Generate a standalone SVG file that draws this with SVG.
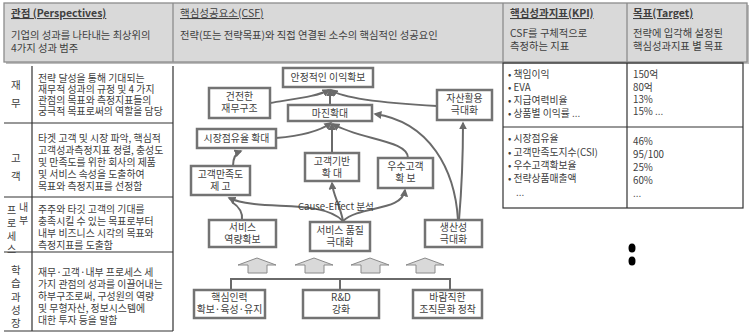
<svg xmlns="http://www.w3.org/2000/svg" width="751" height="333" viewBox="0 0 751 333">
<defs>
<marker id="ah" viewBox="0 0 10 10" refX="8" refY="5" markerWidth="4" markerHeight="4" orient="auto-start-reverse">
<path d="M0,0 L10,5 L0,10 z" fill="#6a6a6a"/>
</marker>
<style>
text{font-family:"Noto Sans CJK KR","Noto Sans",sans-serif;fill:#404040}
.h{font-size:10.3px}
.hb{font-size:10.5px;font-weight:bold;text-decoration:underline}
.hu{font-size:10.5px;text-decoration:underline}
.t{font-size:9.9px}
.lb{font-size:10.5px}
.lbs{font-size:10px}
.n rect{fill:#fff;stroke:#737373;stroke-width:2.5}
.n text{font-size:9.9px;text-anchor:middle}
.c path{fill:none;stroke:#6a6a6a;stroke-width:2}
.k{font-size:9.8px}
.grid{stroke:#333;stroke-width:1.2;fill:none}
.big{fill:#d9d9d9;stroke:#8a8a8a;stroke-width:1}
</style>
</defs>
<rect width="751" height="333" fill="#fff"/>

<!-- header -->
<g id="header">
<rect x="6" y="5" width="743" height="59" fill="#bdbdbd"/>
<rect x="4" y="3" width="743" height="59" fill="#d9d9d9" stroke="#8c8c8c" stroke-width="1.3"/>
<line x1="173" y1="3" x2="173" y2="62" stroke="#8c8c8c" stroke-width="1.3"/>
<line x1="503" y1="3" x2="503" y2="62" stroke="#8c8c8c" stroke-width="1.3"/>
<line x1="627" y1="3" x2="627" y2="62" stroke="#8c8c8c" stroke-width="1.3"/>
<text class="hb" x="11" y="17">관점 (Perspectives)</text>
<text class="h" x="11" y="39">기업의 성과를 나타내는 최상위의<tspan x="11" dy="13">4가지 성과 범주</tspan></text>
<text class="hu" x="180" y="17">핵심성공요소(CSF)</text>
<text class="h" x="180" y="39">전략(또는 전략목표)와 직접 연결된 소수의 핵심적인 성공요인</text>
<text class="hb" x="510" y="17">핵심성과지표(KPI)</text>
<text class="h" x="510" y="37">CSF를 구체적으로<tspan x="510" dy="13">측정하는 지표</tspan></text>
<text class="hb" x="633" y="17">목표(Target)</text>
<text class="h" x="633" y="37">전략에 입각해 설정된<tspan x="633" dy="13">핵심성과지표 별 목표</tspan></text>
</g>

<!-- left table -->
<g id="perspectives">
<path class="grid" d="M32,66 V331 M173,66 V331 M4,123 H173 M4,197 H173 M4,252 H173 M4,331 H173"/>
<text class="lb" x="11" y="89">재<tspan x="11" dy="18">무</tspan></text>
<text class="t" x="38" y="82">전략 달성을 통해 기대되는<tspan x="38" dy="11">재무적 성과의 규정 및 4 가지</tspan><tspan x="38" dy="11">관점의 목표와 측정지표들의</tspan><tspan x="38" dy="11">궁극적 목표로써의 역할을 담당</tspan></text>

<text class="lb" x="11" y="162">고<tspan x="11" dy="18">객</tspan></text>
<text class="t" x="38" y="142">타겟 고객 및 시장 파악, 핵심적<tspan x="38" dy="12">고객성과측정지표 정렬, 충성도</tspan><tspan x="38" dy="12">및 만족도를 위한 회사의 제품</tspan><tspan x="38" dy="12">및 서비스 속성을 도출하여</tspan><tspan x="38" dy="12">목표와 측정지표를 선정함</tspan></text>

<text class="lbs" x="7" y="214">프<tspan x="7" dy="13">로</tspan><tspan x="7" dy="13">세</tspan><tspan x="7" dy="13">스</tspan></text>
<text class="lbs" x="19" y="211">내<tspan x="19" dy="13">부</tspan></text>
<text class="t" x="38" y="213">주주와 타깃 고객의 기대를<tspan x="38" dy="12">충족시킬 수 있는 목표로부터</tspan><tspan x="38" dy="12">내부 비즈니스 시각의 목표와</tspan><tspan x="38" dy="12">측정지표를 도출함</tspan></text>

<text class="lb" x="11" y="274">학<tspan x="11" dy="13.3">습</tspan><tspan x="11" dy="13.3">과</tspan><tspan x="11" dy="13.3">성</tspan><tspan x="11" dy="13.3">장</tspan></text>
<text class="t" x="38" y="276">재무·고객·내부 프로세스 세<tspan x="38" dy="12">가지 관점의 성과를 이끌어내는</tspan><tspan x="38" dy="12">하부구조로써, 구성원의 역량</tspan><tspan x="38" dy="12">및 무형자산, 정보시스템에</tspan><tspan x="38" dy="12">대한 투자 등을 말함</tspan></text>
</g>

<!-- KPI table -->
<g id="kpi">
<rect class="grid" x="503" y="63" width="240" height="145" stroke-width="1.5"/>
<path class="grid" d="M627,63 V208 M503,127 H743" stroke-width="1.5"/>
<text class="k" x="508" y="78">• 책임이익<tspan x="508" dy="13">• EVA</tspan><tspan x="508" dy="13">• 지급여력비율</tspan><tspan x="508" dy="13">• 상품별 이익률 ...</tspan></text>
<text class="k" x="633" y="78">150억<tspan x="633" dy="13">80억</tspan><tspan x="633" dy="12">13%</tspan><tspan x="633" dy="12">15% ...</tspan></text>
<text class="k" x="508" y="142">• 시장점유율<tspan x="508" dy="14">• 고객만족도지수(CSI)</tspan><tspan x="508" dy="13">• 우수고객확보율</tspan><tspan x="508" dy="13">• 전략상품매출액</tspan><tspan x="516" dy="14">...</tspan></text>
<text class="k" x="633" y="145">46%<tspan x="633" dy="13">95/100</tspan><tspan x="633" dy="13">25%</tspan><tspan x="633" dy="13">60%</tspan><tspan x="633" dy="13">...</tspan></text>
<ellipse cx="632" cy="248" rx="3.5" ry="4.5" fill="#000"/>
<ellipse cx="632" cy="261" rx="3.5" ry="4.5" fill="#000"/>
</g>

<!-- connectors -->
<g id="connectors" class="c">
<path d="M270,103 C300,98 318,96 329,90" marker-end="url(#ah)"/>
<path d="M330,105 V90" marker-end="url(#ah)"/>
<path d="M437,106 C400,104 345,100 331,90" marker-end="url(#ah)"/>
<path d="M276,138 C300,136 320,131 331,123" marker-end="url(#ah)"/>
<path d="M332,153 V124" marker-end="url(#ah)"/>
<path d="M408,158 C408,140 360,140 333,124" marker-end="url(#ah)"/>
<path d="M458,220 C455,170 430,122 375,114" marker-end="url(#ah)"/>
<path d="M459,220 C462,185 463,150 463,123" marker-end="url(#ah)"/>
<path d="M233,166 C233,158 236,153 241,151" marker-end="url(#ah)"/>
<path d="M343,221 C320,198 260,212 229,198" marker-end="url(#ah)"/>
<path d="M242,220 C243,212 238,206 232,202"/>
<path d="M343,221 C340,205 333,195 332,183" marker-end="url(#ah)"/>
<path d="M343,221 C360,205 402,212 405,190" marker-end="url(#ah)"/>
<path d="M231,290 V279 H450 V290 M340,279 V290" stroke="#7a7a7a"/>
</g>
<text x="298" y="210" font-size="9.6px">Cause-Effect 분석</text>

<!-- big arrows -->
<g id="bigarrows">
<path class="big" d="M238,265 L257,258 L276,265 L267,265 L267,273 L248,273 L248,265 z"/>
<path class="big" d="M295,265 L314,258 L333,265 L324,265 L324,273 L305,273 L305,265 z"/>
<path class="big" d="M351,265 L370,258 L389,265 L380,265 L380,273 L361,273 L361,265 z"/>
<path class="big" d="M406,265 L425,258 L444,265 L435,265 L435,273 L416,273 L416,265 z"/>
</g>

<!-- nodes -->
<g id="n1" class="n"><rect x="283" y="68" width="90" height="19"/><text x="328" y="81">안정적인 이익확보</text></g>
<g id="n2" class="n"><rect x="209" y="88" width="61" height="30"/><text x="239.5" y="100">건전한<tspan x="239.5" dy="12">재무구조</tspan></text></g>
<g id="n3" class="n"><rect x="288" y="105" width="84" height="16"/><text x="330" y="116.5">마진확대</text></g>
<g id="n4" class="n"><rect x="437" y="90" width="55" height="30"/><text x="464.5" y="102">자산활용<tspan x="464.5" dy="12">극대화</tspan></text></g>
<g id="n5" class="n"><rect x="197" y="129" width="79" height="19"/><text x="236.5" y="142">시장점유율 확대</text></g>
<g id="n6" class="n"><rect x="305" y="153" width="54" height="28"/><text x="332" y="165">고객기반<tspan x="332" dy="12">확  대</tspan></text></g>
<g id="n7" class="n"><rect x="378" y="158" width="55" height="30"/><text x="405.5" y="170">우수고객<tspan x="405.5" dy="12">확 보</tspan></text></g>
<g id="n8" class="n"><rect x="191" y="166" width="59" height="29"/><text x="220.5" y="178">고객만족도<tspan x="220.5" dy="12">제  고</tspan></text></g>
<g id="n9" class="n"><rect x="209" y="220" width="67" height="27"/><text x="242.5" y="231">서비스<tspan x="242.5" dy="12">역량확보</tspan></text></g>
<g id="n10" class="n"><rect x="310" y="222" width="60" height="29"/><text x="340" y="234">서비스 품질<tspan x="340" dy="12">극대화</tspan></text></g>
<g id="n11" class="n"><rect x="425" y="220" width="57" height="27"/><text x="453.5" y="231">생산성<tspan x="453.5" dy="12">극대화</tspan></text></g>
<g id="n12" class="n"><rect x="194" y="290" width="71" height="28"/><text x="229.5" y="301">핵심인력<tspan x="229.5" dy="12">확보·육성·유지</tspan></text></g>
<g id="n13" class="n"><rect x="303" y="290" width="76" height="28"/><text x="341" y="301">R&amp;D<tspan x="341" dy="12">강화</tspan></text></g>
<g id="n14" class="n"><rect x="413" y="290" width="69" height="28"/><text x="447.5" y="301">바람직한<tspan x="447.5" dy="12">조직문화 정착</tspan></text></g>
</svg>
